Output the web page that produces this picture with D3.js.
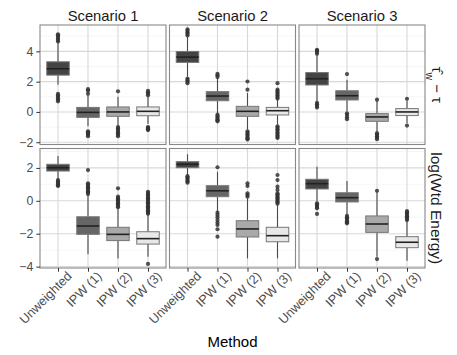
<!DOCTYPE html>
<html><head><meta charset="utf-8">
<script src="https://cdn.jsdelivr.net/npm/d3@7"></script>
<style>
body{margin:0;background:#fff;}
text{font-family:"Liberation Sans",Arial,sans-serif;}
</style></head>
<body>
<svg id="chart" width="457" height="355"></svg>
<script>
// ---------- data ----------
const scenarios = ["Scenario 1", "Scenario 2", "Scenario 3"];
const methods = ["Unweighted", "IPW (1)", "IPW (2)", "IPW (3)"];
const xTitle = "Method";
const energyLabel = "log(Wtd Energy)";
const biasTicks = [-2, 0, 2, 4];
const energyTicks = [-4, -2, 0, 2];

// box stats: [lower whisker, q1, median, q3, upper whisker], per scenario, per method
const biasStats = [
  [[1.8, 2.43, 2.85, 3.31, 4.6], [-0.95, -0.36, -0.03, 0.30, 1.14], [-0.95, -0.29, 0.0, 0.33, 1.0], [-0.8, -0.25, 0.04, 0.33, 1.0]],
  [[2.34, 3.27, 3.62, 3.99, 4.97], [-0.07, 0.74, 1.05, 1.34, 2.24], [-1.16, -0.29, 0.04, 0.37, 1.25], [-0.84, -0.2, 0.08, 0.3, 0.8]],
  [[0.7, 1.78, 2.19, 2.6, 3.77], [0.04, 0.79, 1.07, 1.4, 2.13], [-1.3, -0.62, -0.33, -0.11, 0.75], [-0.75, -0.24, 0.0, 0.22, 0.75]]
];
const biasOutliers = [
  [[4.65, 4.75, 4.85, 4.95, 5.05, 5.13, 1.2, 1.1, 1.0, 0.9, 0.8, 0.7],
   [1.5, 1.4, 1.2, -1.28, -1.35, -1.42, -1.5, -1.6],
   [1.36, -1.0, -1.1, -1.2, -1.3, -1.4, -1.5, -1.6],
   [1.4, 1.3, 1.2, 1.1, -1.0, -1.05, -1.1, -1.15, -1.2]],
  [[5.05, 5.15, 5.25, 5.35, 5.46, 2.2, 2.1, 2.0, 1.9],
   [2.3, 2.42, 2.52, -0.18, -0.28, -0.38, -0.48, -0.55, -0.62],
   [1.47, 2.01, -1.28, -1.38, -1.48, -1.58, -1.68, -1.75, -1.82],
   [1.9, 1.47, 1.38, 1.28, 1.18, 1.08, 0.98, 0.88, -0.95, -1.05, -1.15, -1.25, -1.35, -1.45, -1.55, -1.65, -1.72]],
  [[3.85, 3.95, 4.05, 4.1, 0.6, 0.5, 0.4, 0.3],
   [2.5, -0.09, -0.2, -0.35, -0.48],
   [0.81, -1.4, -1.5, -1.6, -1.7, -1.8],
   [0.87, -0.9]]
];
const energyStats = [
  [[1.33, 1.81, 2.01, 2.22, 2.72], [-3.25, -2.04, -1.53, -0.97, 0.35], [-3.5, -2.42, -2.04, -1.61, -0.46], [-3.4, -2.63, -2.3, -1.88, -0.86]],
  [[1.57, 2.01, 2.22, 2.38, 2.83], [-0.66, 0.25, 0.61, 0.92, 1.77], [-3.5, -2.2, -1.71, -1.21, 0.15], [-3.5, -2.49, -2.12, -1.61, -0.26]],
  [[-0.05, 0.72, 1.04, 1.31, 2.07], [-0.86, -0.07, 0.19, 0.49, 1.2], [-3.4, -1.92, -1.41, -0.92, 0.55], [-3.64, -2.85, -2.52, -2.18, -1.25]]
];
const energyOutliers = [
  [[1.26, 1.18, 1.1, 1.02, 0.95, 0.9],
   [1.87, 1.06, 0.98, 0.9, 0.82, 0.74, 0.66, 0.58, 0.5, 0.42],
   [0.76, 0.25, 0.17, 0.09, 0.01, -0.07, -0.15, -0.23, -0.31, -0.39],
   [0.55, 0.47, 0.39, 0.31, 0.23, 0.15, 0.07, -0.01, -0.09, -0.17, -0.25, -0.33, -0.41, -0.49, -0.57, -0.65, -0.72, -0.78, -3.84]],
  [[1.5, 1.42, 1.34, 1.26, 1.18, 1.1],
   [2.04, -0.72, -0.86, -1.0, -1.17, -1.33, -1.47, -1.73, -2.18],
   [0.25, 0.35, 0.46, 0.9, 1.06],
   [1.57, 1.26, 0.86, 0.66, 0.46, 0.38, 0.3, 0.22, 0.14, 0.06, -0.02, -0.1, -0.18]],
  [[-0.15, -0.22, -0.3, -0.38, -0.46, -0.8],
   [-0.92, -1.0, -1.08, -1.16, -1.24, -1.32, -1.37],
   [0.61, -3.54],
   [-0.62, -0.7, -0.78, -0.86, -0.94, -1.02, -1.1, -1.17]]
];

// ---------- layout ----------
const svg = d3.select("#chart");
const fills = ["#444444", "#666666", "#a9a9a9", "#e8e8e8"];
const colX = [[40, 166], [169.5, 295.5], [299, 425]];
const rows = [
  {y: [25, 144.5], domain: [-2.15, 5.74], ticks: biasTicks, minor: [-1, 1, 3, 5], stats: biasStats, out: biasOutliers},
  {y: [148.5, 268], domain: [-4.085, 3.18], ticks: energyTicks, minor: [-3, -1, 1, 3], stats: energyStats, out: energyOutliers}
];

rows.forEach((row, ri) => {
  const y = d3.scaleLinear().domain(row.domain).range([row.y[1], row.y[0]]);
  colX.forEach((cx, ci) => {
    const x = d3.scalePoint().domain(methods).range(cx).padding(0.6);
    const bw = x.step() * 0.75;
    const g = svg.append("g");
    g.append("rect").attr("x", cx[0]).attr("y", row.y[0]).attr("width", cx[1] - cx[0]).attr("height", row.y[1] - row.y[0]).attr("fill", "#fff");
    // minor grid
    g.selectAll(".mn").data(row.minor).join("line")
      .attr("x1", cx[0]).attr("x2", cx[1]).attr("y1", d => y(d)).attr("y2", d => y(d))
      .attr("stroke", "#f0f0f0").attr("stroke-width", 0.6);
    // major grid
    g.selectAll(".mj").data(row.ticks).join("line")
      .attr("x1", cx[0]).attr("x2", cx[1]).attr("y1", d => y(d)).attr("y2", d => y(d))
      .attr("stroke", "#d8d8d8").attr("stroke-width", 1.1);
    g.selectAll(".mv").data(methods).join("line")
      .attr("x1", d => x(d)).attr("x2", d => x(d)).attr("y1", row.y[0]).attr("y2", row.y[1])
      .attr("stroke", "#d8d8d8").attr("stroke-width", 1.1);

    methods.forEach((m, mi) => {
      const s = row.stats[ci][mi];
      const xc = x(m);
      // whiskers
      g.append("line").attr("x1", xc).attr("x2", xc).attr("y1", y(s[3])).attr("y2", y(s[4])).attr("stroke", "#4a4a4a").attr("stroke-width", 1.1);
      g.append("line").attr("x1", xc).attr("x2", xc).attr("y1", y(s[1])).attr("y2", y(s[0])).attr("stroke", "#4a4a4a").attr("stroke-width", 1.1);
      // box
      g.append("rect").attr("x", xc - bw / 2).attr("y", y(s[3])).attr("width", bw).attr("height", y(s[1]) - y(s[3]))
        .attr("fill", fills[mi]).attr("stroke", "#777").attr("stroke-width", 1);
      g.append("line").attr("x1", xc - bw / 2).attr("x2", xc + bw / 2).attr("y1", y(s[2])).attr("y2", y(s[2]))
        .attr("stroke", "#222").attr("stroke-width", 1.6);
      // outliers
      g.selectAll(null).data(row.out[ci][mi]).join("circle")
        .attr("cx", xc).attr("cy", d => y(d)).attr("r", 2.1).attr("fill", "#333").attr("fill-opacity", 0.85);
    });
    // border
    g.append("rect").attr("x", cx[0]).attr("y", row.y[0]).attr("width", cx[1] - cx[0]).attr("height", row.y[1] - row.y[0])
      .attr("fill", "none").attr("stroke", "#888").attr("stroke-width", 1.1);

    // y axis on first column
    if (ci === 0) {
      const ax = svg.append("g").attr("transform", `translate(${cx[0]},0)`)
        .call(d3.axisLeft(y).tickValues(row.ticks).tickSize(3.7).tickPadding(3).tickFormat(d => d < 0 ? "\u2212" + Math.abs(d) : d));
      ax.select(".domain").remove();
      ax.selectAll("line").attr("stroke", "#333");
      ax.selectAll("text").attr("fill", "#4d4d4d").style("font-size", "12.3px").attr("font-family", "Liberation Sans, Arial, sans-serif");
    }
    // x axis on bottom row
    if (ri === 1) {
      const ax = svg.append("g").attr("transform", `translate(0,${row.y[1]})`)
        .call(d3.axisBottom(x).tickSize(3.7));
      ax.select(".domain").remove();
      ax.selectAll("line").attr("stroke", "#333");
      ax.selectAll("text").attr("fill", "#4d4d4d").style("font-size", "12.8px").attr("font-family", "Liberation Sans, Arial, sans-serif")
        .attr("x", 0).attr("y", 0).attr("dy", 0).attr("text-anchor", "end")
        .attr("transform", "translate(14,9) rotate(-45)");
    }
    // strip on top row
    if (ri === 0) {
      svg.append("text").attr("x", (cx[0] + cx[1]) / 2).attr("y", 20.5).attr("text-anchor", "middle")
        .attr("fill", "#1a1a1a").style("font-size", "14.8px").text(scenarios[ci]);
    }
  });
});

// right strips
const r0 = (rows[0].y[0] + rows[0].y[1]) / 2;
const t0 = svg.append("text").attr("transform", `translate(432,${r0}) rotate(90)`).attr("text-anchor", "middle")
  .attr("fill", "#1a1a1a").style("font-size", "15px");
t0.append("tspan").text("\u03C4\u0302");
t0.append("tspan").attr("baseline-shift", "sub").style("font-size", "10.5px").text("w");
t0.append("tspan").text(" \u2212 \u03C4");

const r1 = (rows[1].y[0] + rows[1].y[1]) / 2;
svg.append("text").attr("transform", `translate(431,${r1}) rotate(90)`).attr("text-anchor", "middle")
  .attr("fill", "#1a1a1a").style("font-size", "15.5px").text(energyLabel);

// x title
svg.append("text").attr("x", (colX[0][0] + colX[2][1]) / 2).attr("y", 347).attr("text-anchor", "middle")
  .attr("fill", "#000").style("font-size", "15px").text(xTitle);
</script>
</body></html>
